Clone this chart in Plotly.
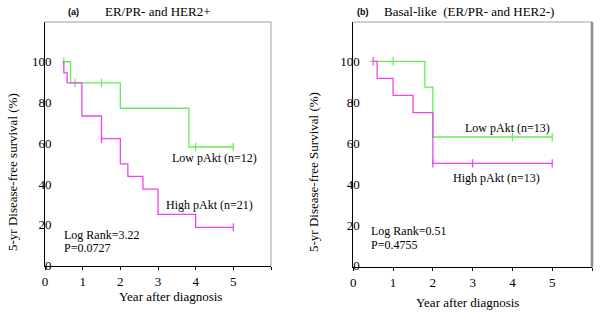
import plotly.graph_objects as go

# ---- data ----
years_ticks = [0, 1, 2, 3, 4, 5, 6]
years_ticktext = ["0", "1", "2", "3", "4", "5", ""]
surv_ticks = [0, 20, 40, 60, 80, 100]
surv_ticktext = ["0", "20", "40", "60", "80", "100"]

# Panel a: ER/PR- and HER2+
a_low_x = [0.45, 0.68, 2.0, 3.82, 5.0]
a_low_y = [100, 89.6, 77.2, 58.2, 58.2]
a_low_cx = [0.5, 0.8, 1.5, 4.0, 5.0]
a_low_cy = [100, 89.6, 89.6, 58.2, 58.2]
a_high_x = [0.5, 0.5, 0.59, 0.98, 1.5, 2.0, 2.2, 2.6, 3.0, 4.0, 5.0]
a_high_y = [100, 94.6, 89.6, 73.4, 62.3, 49.9, 43.8, 37.5, 25.2, 18.8, 18.8]
a_high_cx = [1.5, 5.0]
a_high_cy = [62.3, 18.8]

# Panel b: Basal-like
b_low_x = [0.42, 1.8, 2.0, 5.0]
b_low_y = [100, 87.4, 63, 63]
b_low_cx = [1.0, 4.0, 5.0]
b_low_cy = [100, 63, 63]
b_high_x = [0.5, 0.6, 1.0, 1.5, 2.0, 5.0]
b_high_y = [100, 91.6, 83.3, 74.9, 50.1, 50.1]
b_high_cx = [0.5, 2.0, 3.0, 5.0]
b_high_cy = [100, 50.1, 50.1, 50.1]

GREEN = "#66ee55"
MAGENTA = "#ee44ee"
FONT = "Liberation Serif"

W, H = 600, 312
def px(x):
    return x / W
def py(y):
    return 1 - y / H

fig = go.Figure()

def add_curve(x, y, cx, cy, color, xa, ya):
    fig.add_trace(go.Scatter(x=x, y=y, mode="lines", line=dict(color=color, width=1.3, shape="hv"),
                             xaxis=xa, yaxis=ya, showlegend=False, hoverinfo="skip"))
    fig.add_trace(go.Scatter(x=cx, y=cy, mode="markers",
                             marker=dict(symbol="line-ns", size=6, line=dict(color=color, width=1.2)),
                             xaxis=xa, yaxis=ya, showlegend=False, hoverinfo="skip"))

add_curve(a_low_x, a_low_y, a_low_cx, a_low_cy, GREEN, "x", "y")
add_curve(a_high_x, a_high_y, a_high_cx, a_high_cy, MAGENTA, "x", "y")
add_curve(b_low_x, b_low_y, b_low_cx, b_low_cy, GREEN, "x2", "y2")
add_curve(b_high_x, b_high_y, b_high_cx, b_high_cy, MAGENTA, "x2", "y2")

xcommon = dict(range=[0, 6], tickvals=years_ticks, ticktext=years_ticktext, ticks="outside",
               ticklen=3, tickcolor="black", showline=True, linecolor="black", linewidth=1,
               showgrid=False, zeroline=False, automargin=False,
               tickfont=dict(family=FONT, size=13, color="black"))
ycommon = dict(tickvals=surv_ticks, ticktext=surv_ticktext, ticks="", showline=True,
               linecolor="black", linewidth=1, showgrid=False, zeroline=False,
               ticklabelstandoff=-10, automargin=False,
               tickfont=dict(family=FONT, size=13, color="black"))

fig.update_layout(
    width=W, height=H, margin=dict(l=0, r=0, t=0, b=0, autoexpand=False),
    paper_bgcolor="white", plot_bgcolor="white",
    xaxis=dict(domain=[px(45), px(271)], anchor="y", **xcommon),
    yaxis=dict(domain=[py(266), py(22)], anchor="x", range=[-0.15, 119.5], **ycommon),
    xaxis2=dict(domain=[px(353.3), px(592)], anchor="y2", **xcommon),
    yaxis2=dict(domain=[py(267.3), py(22)], anchor="x2", range=[-0.7, 119.2], **ycommon),
)

# frame top/right lines
for xr, yr, rw, rc in [("x domain", "y domain", 1, "#a0a0a0"), ("x2 domain", "y2 domain", 2.5, "#8a8a8a")]:
    fig.add_shape(type="line", xref=xr, yref=yr, x0=0, x1=1, y0=1, y1=1, line=dict(color="#a0a0a0", width=1))
    fig.add_shape(type="line", xref=xr, yref=yr, x0=1, x1=1, y0=0, y1=1, line=dict(color=rc, width=rw))

def ann(text, x, y, size=12, xanchor="center", bold=False, family=FONT, angle=0):
    fig.add_annotation(text=("<b>%s</b>" % text) if bold else text, x=px(x), y=py(y),
                       xref="paper", yref="paper", showarrow=False, xanchor=xanchor, yanchor="middle",
                       textangle=angle, font=dict(family=family, size=size, color="black"))

# panel a texts
ann("(a)", 73, 12, size=9, bold=True, family="Liberation Sans")
ann("ER/PR- and HER2+", 158, 12, size=13)
ann("Low pAkt (n=12)", 214, 158, size=12)
ann("High pAkt (n=21)", 209, 205, size=12)
ann("Log Rank=3.22", 62, 235, size=12, xanchor="left")
ann("P=0.0727", 62, 248.5, size=12, xanchor="left")
ann("Year after diagnosis", 170, 296.5, size=13)
ann("5-yr Disease-free survival (%)", 12, 172, size=13, angle=-90)

# panel b texts
ann("(b)", 363, 12, size=9, bold=True, family="Liberation Sans")
ann("Basal-like  (ER/PR- and HER2-)", 469, 12, size=13)
ann("Low pAkt (n=13)", 507.5, 128, size=12)
ann("High pAkt (n=13)", 496, 177.5, size=12)
ann("Log Rank=0.51", 369, 230.5, size=12, xanchor="left")
ann("P=0.4755", 369, 244.5, size=12, xanchor="left")
ann("Year after diagnosis", 467, 302.5, size=13)
ann("5-yr Disease-free Survival (%)", 313, 172, size=13, angle=-90)

fig.write_html("out.html", config={"displayModeBar": False},
               post_script="document.body.style.margin='0';document.body.style.overflow='hidden';")
